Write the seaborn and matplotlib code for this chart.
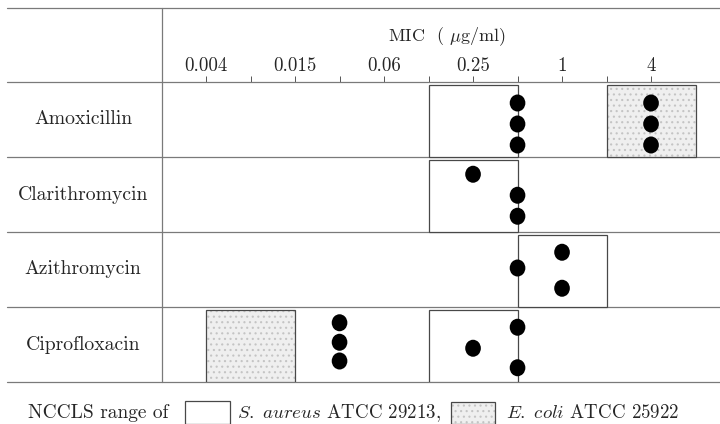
import numpy as np
import pandas as pd
import seaborn as sns
import matplotlib.pyplot as plt
from matplotlib.path import Path
from matplotlib.patches import Rectangle


DRUGS = ['Amoxicillin', 'Clarithromycin', 'Azithromycin', 'Ciprofloxacin']

# one dot per test: drug, MIC (doubling dilution) and its height inside the row
dot_drug = ['Amoxicillin'] * 6 + ['Clarithromycin'] * 3 + ['Azithromycin'] * 3 + ['Ciprofloxacin'] * 6
dot_mic = [0.5, 0.5, 0.5, 4, 4, 4,
           0.25, 0.5, 0.5,
           1, 0.5, 1,
           0.03125, 0.03125, 0.03125, 0.25, 0.5, 0.5]
dot_slot = [0.28, 0.56, 0.84, 0.28, 0.56, 0.84,
            0.23, 0.51, 0.79,
            0.27, 0.48, 0.75,
            0.21, 0.47, 0.72, 0.55, 0.27, 0.81]

# NCCLS QC ranges (low, high)
saureus_drug = ['Amoxicillin', 'Clarithromycin', 'Azithromycin', 'Ciprofloxacin']
saureus_lo = [0.125, 0.125, 0.5, 0.125]
saureus_hi = [0.5, 0.5, 2, 0.5]
ecoli_drug = ['Amoxicillin', 'Ciprofloxacin']
ecoli_lo = [2, 0.00390625]
ecoli_hi = [8, 0.015625]

tick_vals = [2.0 ** -8, 2.0 ** -6, 2.0 ** -4, 2.0 ** -2, 1, 4]
tick_labels = ['0.004', '0.015', '0.06', '0.25', '1', '4']
minor_vals = [2.0 ** -7, 2.0 ** -5, 2.0 ** -3, 2.0 ** -1, 2]


sns.set_style('white')
plt.rcParams['font.family'] = ['cmr10', 'DejaVu Serif']
plt.rcParams['mathtext.fontset'] = 'cm'
plt.rcParams['axes.formatter.use_mathtext'] = True
plt.rcParams['hatch.linewidth'] = 0.8

LINE = '#7a7a7a'
EDGE = '#484848'

fig = plt.figure(figsize=(7.2, 4.24), dpi=100)
ax = fig.add_axes([162 / 720, 1 - 382 / 424, 1 - 162 / 720, 300 / 424])

row = {d: i for i, d in enumerate(DRUGS)}
df = pd.DataFrame({'drug': dot_drug, 'mic': dot_mic, 'slot': dot_slot})
df['y'] = df['drug'].map(row) + df['slot']

inset = 0.035
for d, lo, hi in zip(saureus_drug, saureus_lo, saureus_hi):
    ax.barh(row[d] + (1 + inset) / 2, hi - lo, left=lo, height=1 - inset,
            color='white', edgecolor=EDGE, linewidth=0.9, zorder=2)
for d, lo, hi in zip(ecoli_drug, ecoli_lo, ecoli_hi):
    ax.barh(row[d] + (1 + inset) / 2, hi - lo, left=lo, height=1 - inset,
            color='#efefef', edgecolor='#c4c4c4', hatch='...', linewidth=0, zorder=2)
    ax.barh(row[d] + (1 + inset) / 2, hi - lo, left=lo, height=1 - inset,
            color='none', edgecolor=EDGE, linewidth=0.9, zorder=2)

ellipse = Path(Path.unit_circle().vertices * [0.92, 1.0], Path.unit_circle().codes)
sns.scatterplot(data=df, x='mic', y='y', ax=ax, color='black', marker=ellipse,
                s=150, edgecolor='none', zorder=3, legend=False)

ax.set_xscale('log', base=2)
ax.set_xlim(2.0 ** -8.99, 2.0 ** 3.55)
ax.set_ylim(4, 0)
for s in ax.spines.values():
    s.set_visible(False)

ax.xaxis.tick_top()
ax.set_xticks(tick_vals, tick_labels)
ax.set_xticks(minor_vals, minor=True)
ax.xaxis.set_minor_formatter(plt.NullFormatter())
ax.tick_params(axis='x', which='both', top=True, bottom=False, direction='out',
               length=4, width=0.7, color='#555555', pad=0.8, labelsize=13.6)
ax.set_yticks([])
ax.set_xlabel('')
ax.set_ylabel('')

# table rules
left_ext = (7 - 162) / 558
for y in [0, 1, 2, 3, 4, -(82 - 8) / 75]:
    ax.axhline(y, xmin=left_ext, xmax=1, color=LINE, linewidth=0.9, clip_on=False, zorder=1)
ax.axvline(ax.get_xlim()[0], ymin=0, ymax=(382 - 8) / 300, color=LINE,
           linewidth=0.9, clip_on=False, zorder=1)

for d in DRUGS:
    ax.text((83 - 162) / 558, row[d] + 0.5, d, transform=ax.get_yaxis_transform(),
            ha='center', va='center', fontsize=14.2)

fig.text(447 / 720, 1 - 37 / 424, r'MIC  ( $\mu$g/ml)', ha='center', va='center', fontsize=13)

# legend line at the bottom
ly = 1 - 413 / 424
fig.text(28 / 720, ly, 'NCCLS range of', ha='left', va='center', fontsize=14)
fig.add_artist(Rectangle((185 / 720, 0), 45 / 720, 23 / 424, transform=fig.transFigure,
                         facecolor='white', edgecolor=EDGE, linewidth=0.9))
fig.text(237 / 720, ly, r'$\mathit{S}.\ \mathit{aureus}$ ATCC 29213,', ha='left', va='center', fontsize=13.6)
fig.add_artist(Rectangle((451 / 720, 0), 44 / 720, 22 / 424, transform=fig.transFigure,
                         facecolor='#efefef', edgecolor='#c4c4c4', hatch='...', linewidth=0))
fig.add_artist(Rectangle((451 / 720, 0), 44 / 720, 22 / 424, transform=fig.transFigure,
                         facecolor='none', edgecolor=EDGE, linewidth=0.9))
fig.text(506 / 720, ly, r'$\mathit{E}.\ \mathit{coli}$ ATCC 25922', ha='left', va='center', fontsize=13.6)

fig.savefig('out.png', dpi=100)
